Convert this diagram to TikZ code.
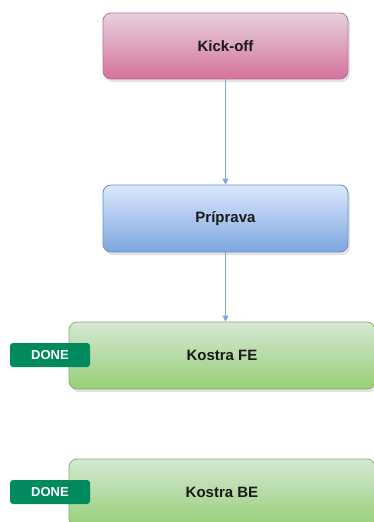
\documentclass[tikz,border=0pt]{standalone}
\usepackage{fontspec}
\setmainfont{Liberation Sans}
\usetikzlibrary{shadows,arrows.meta}
\definecolor{pinkTop}{HTML}{E6D0DE}
\definecolor{pinkBot}{HTML}{D5739D}
\definecolor{pinkLine}{HTML}{B5739D}
\definecolor{blueTop}{HTML}{DAE8FC}
\definecolor{blueBot}{HTML}{7EA6E0}
\definecolor{blueLine}{HTML}{6C8EBF}
\definecolor{greenTop}{HTML}{D5E8D4}
\definecolor{greenBot}{HTML}{97D077}
\definecolor{greenLine}{HTML}{82B366}
\definecolor{doneFill}{HTML}{008A5E}
\definecolor{linkCol}{HTML}{7EA6E0}
\tikzset{
  task/.style={draw, line width=0.8pt, rounded corners=8pt, font=\bfseries\fontsize{15}{17}\selectfont,
    text=black!90, drop shadow={shadow xshift=2pt, shadow yshift=-3pt, opacity=0.22}},
  pinkbox/.style={task, draw=pinkLine, top color=pinkTop, bottom color=pinkBot, minimum width=245pt, minimum height=66pt},
  bluebox/.style={task, draw=blueLine, top color=blueTop, bottom color=blueBot, minimum width=245pt, minimum height=67pt},
  greenbox/.style={task, draw=greenLine, top color=greenTop, bottom color=greenBot, minimum width=306pt, minimum height=67pt},
  donetag/.style={fill=doneFill, draw=none, rounded corners=3pt, minimum width=80pt, minimum height=24pt,
    text=white, font=\bfseries\fontsize{13}{15}\selectfont},
  link/.style={draw=linkCol, line width=0.8pt, -{Triangle[length=6pt,width=6pt]}}
}
\begin{document}
\begin{tikzpicture}[x=1pt,y=-1pt]
  \useasboundingbox (0,0) rectangle (374,522);
  \clip (0,0) rectangle (374,522);
  % process steps
  \node[pinkbox]  (kick) at (225.5,46)  {Kick-off};
  \node[bluebox]  (prep) at (225.5,218.5) {Príprava};
  \node[greenbox] (fe)   at (222,355.5) {Kostra FE};
  \node[greenbox] (be)   at (222,492.5) {Kostra BE};
  % status tags
  \node[donetag] (tagfe) at (50,355) {DONE};
  \node[donetag] (tagbe) at (50,492) {DONE};
  % flow
  \draw[link] (kick.south) -- (prep.north);
  \draw[link] (prep.south) -- (prep.south |- fe.north);
\end{tikzpicture}
\end{document}
